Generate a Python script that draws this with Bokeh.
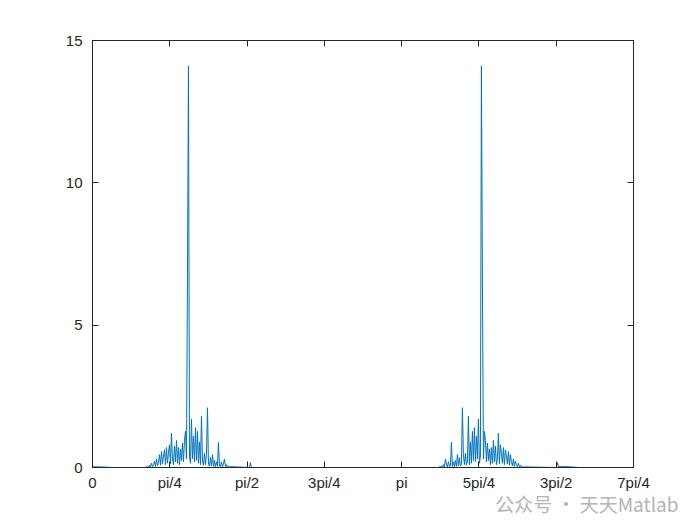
import numpy as np
from bokeh.plotting import figure
from bokeh.models import LinearAxis, FixedTicker, Range1d, Title
from bokeh.embed import file_html
from bokeh.resources import INLINE

# ---- data ----
dw = 0.01016  # frequency spacing of the sampled spectrum (rad)

# low-level tail near 0
tail0_start = 0.0
tail0_mag = [0.04, 0.04, 0.035, 0.035, 0.03, 0.03, 0.03, 0.025, 0.025, 0.02,
             0.02, 0.02, 0.015, 0.015, 0.01, 0.01, 0.01, 0.005, 0.005, 0.0]

# first cluster (around the first peak)
c1_start = 0.5486
c1_mag = [0.02, 0.05, 0.01, 0.08, 0.02, 0.15, 0.03, 0.10, 0.22, 0.04,
          0.30, 0.06, 0.20, 0.45, 0.08, 0.56, 0.12, 0.40, 0.62, 0.10,
          0.70, 0.15, 0.50, 0.80, 0.12, 1.20, 0.30, 0.10, 0.75, 0.20,
          0.95, 0.15, 0.70, 0.10, 0.65, 0.25, 0.86, 0.20, 0.95, 1.27,
          0.30, 6.70, 14.10, 0.40, 0.15, 1.70, 0.30, 1.10, 0.20, 1.40,
          0.25, 1.27, 0.15, 0.90, 0.10, 1.80, 0.20, 0.08, 0.50, 0.10,
          0.45, 2.10, 0.12, 0.05, 0.35, 0.06, 0.45, 0.04, 0.25, 0.03,
          0.20, 0.04, 0.88, 0.05, 0.03, 0.20, 0.02, 0.12, 0.30, 0.02,
          0.10, 0.01, 0.06, 0.01, 0.03]

# isolated small spike after first cluster
s1_freq = [1.5951, 1.6053, 1.6154]
s1_mag = [0.0, 0.17, 0.0]

# second cluster (around the second peak)
c2_start = 3.5255
c2_mag = [0.03, 0.01, 0.06, 0.01, 0.10, 0.02, 0.30, 0.12, 0.02, 0.20,
          0.03, 0.05, 0.88, 0.04, 0.20, 0.03, 0.25, 0.04, 0.45, 0.06,
          0.35, 0.05, 0.12, 2.10, 0.45, 0.10, 0.50, 0.08, 0.20, 1.80,
          0.10, 0.90, 0.15, 1.27, 0.25, 1.40, 0.20, 1.10, 0.30, 1.70,
          0.15, 0.40, 14.10, 6.70, 0.30, 1.27, 0.95, 0.20, 0.86, 0.25,
          0.65, 0.10, 0.70, 0.15, 0.95, 0.20, 0.75, 0.10, 0.30, 1.20,
          0.12, 0.80, 0.50, 0.15, 0.70, 0.10, 0.62, 0.40, 0.12, 0.56,
          0.08, 0.45, 0.20, 0.06, 0.30, 0.04, 0.22, 0.10, 0.03, 0.15,
          0.02, 0.08, 0.01, 0.05, 0.02]

# isolated small spike and low tail after second cluster
s2_freq = [4.7143, 4.7244, 4.7346, 4.8260, 4.9378]
s2_mag = [0.0, 0.17, 0.03, 0.03, 0.0]

x_ticks = [0, np.pi / 4, np.pi / 2, 3 * np.pi / 4, np.pi, 5 * np.pi / 4, 3 * np.pi / 2, 7 * np.pi / 4]
x_labels = ["0", "pi/4", "pi/2", "3pi/4", "pi", "5pi/4", "3pi/2", "7pi/4"]
y_ticks = [0, 5, 10, 15]

# ---- assemble series ----
freq, mag = [], []
freq += [tail0_start + i * dw for i in range(len(tail0_mag))]
mag += tail0_mag
freq += [c1_start - dw] + [c1_start + i * dw for i in range(len(c1_mag))]
mag += [0.0] + c1_mag
freq += s1_freq
mag += s1_mag
freq += [c2_start - dw] + [c2_start + i * dw for i in range(len(c2_mag))]
mag += [0.0] + c2_mag
freq += s2_freq
mag += s2_mag
freq += [7 * np.pi / 4]
mag += [0.0]

p = figure(width=692, height=517, output_backend="svg", toolbar_location=None,
           x_range=Range1d(0, 7 * np.pi / 4), y_range=Range1d(0, 15),
           min_border_left=92, min_border_right=59, min_border_top=40, min_border_bottom=50,
           background_fill_color="white", border_fill_color="white")
p.frame_width = 541
p.frame_height = 427
p.grid.visible = False
p.outline_line_color = "#262626"
p.outline_line_width = 1

p.line(freq, mag, line_color="#0072BD", line_width=1.0)

font = "Liberation Sans"
xa = p.xaxis[0]
xa.ticker = FixedTicker(ticks=x_ticks)
xa.major_label_overrides = {t: l for t, l in zip(x_ticks, x_labels)}
ya = p.yaxis[0]
ya.ticker = FixedTicker(ticks=y_ticks)

for ax in (xa, ya):
    ax.major_tick_in = 6
    ax.major_tick_out = 0
    ax.minor_tick_in = 0
    ax.minor_tick_out = 0
    ax.axis_line_color = "#262626"
    ax.major_tick_line_color = "#262626"
    ax.major_label_text_font = font
    ax.major_label_text_font_size = "15px"
    ax.major_label_text_color = "#262626"
xa.major_label_standoff = 6
ya.major_label_standoff = 10

top = LinearAxis(ticker=FixedTicker(ticks=x_ticks),
                 major_label_overrides={t: "" for t in x_ticks},
                 major_tick_in=6, major_tick_out=0, minor_tick_in=0, minor_tick_out=0,
                 axis_line_color="#262626", major_tick_line_color="#262626")
right = LinearAxis(ticker=FixedTicker(ticks=y_ticks),
                   major_label_overrides={t: "" for t in y_ticks},
                   major_tick_in=6, major_tick_out=0, minor_tick_in=0, minor_tick_out=0,
                   axis_line_color="#262626", major_tick_line_color="#262626")
p.add_layout(top, "above")
p.add_layout(right, "right")

wm = Title(text="公众号 · 天天Matlab", align="right", offset=-45,
           text_font="Noto Sans CJK SC", text_font_size="19px", text_font_style="normal",
           text_color="#b4b4b4", standoff=-12)
p.add_layout(wm, "below")

open("out.html", "w").write(file_html(p, INLINE))
